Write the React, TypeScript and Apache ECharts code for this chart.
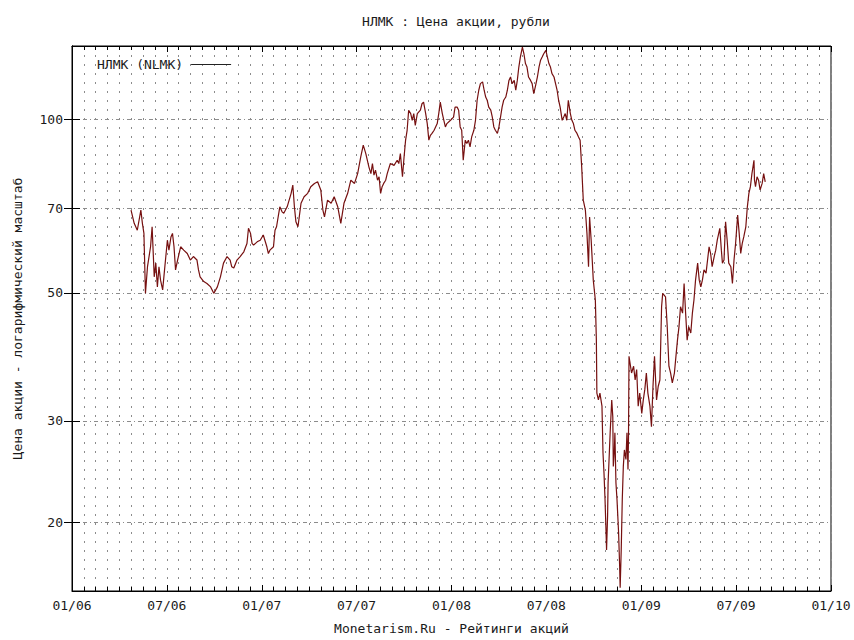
import React, { useEffect, useRef } from "react";
import * as echarts from "echarts";

// ---- data ----
const dates2006 = [
  "2006-04-23","2006-04-29","2006-05-05","2006-05-12","2006-05-15","2006-05-18","2006-05-21","2006-05-25","2006-05-31",
  "2006-06-03","2006-06-07","2006-06-10","2006-06-13","2006-06-16","2006-06-19","2006-06-23","2006-06-26","2006-06-29",
  "2006-07-02","2006-07-05","2006-07-09","2006-07-12","2006-07-15","2006-07-18","2006-07-22","2006-07-28",
  "2006-08-03","2006-08-10","2006-08-16","2006-08-22","2006-08-29",
  "2006-09-01","2006-09-04","2006-09-11","2006-09-17","2006-09-24","2006-09-30",
  "2006-10-07","2006-10-13","2006-10-19","2006-10-26",
  "2006-11-01","2006-11-04","2006-11-08","2006-11-14","2006-11-20","2006-11-27",
  "2006-12-03","2006-12-06","2006-12-10","2006-12-13","2006-12-16","2006-12-23","2006-12-29",
];
const prices2006 = [
  69.6,66.0,64.2,69.6,66.0,63.4,49.9,55.5,60.1,
  65.1,53.3,56.3,51.2,55.5,52.6,50.6,54.1,57.8,
  61.7,59.3,62.5,63.4,60.1,54.8,57.0,60.1,
  59.3,58.5,57.0,57.8,57.0,
  54.8,53.3,52.3,51.9,51.2,49.9,
  51.2,53.3,56.3,57.8,
  57.0,55.5,55.2,57.0,57.8,58.9,
  60.9,64.7,63.4,60.9,60.5,61.3,61.7,
];

const dates2007 = [
  "2007-01-04","2007-01-11","2007-01-14","2007-01-17","2007-01-24","2007-01-27","2007-01-30",
  "2007-02-05","2007-02-09","2007-02-12","2007-02-18","2007-02-25","2007-02-28",
  "2007-03-03","2007-03-06","2007-03-10","2007-03-16","2007-03-22","2007-03-29",
  "2007-04-04","2007-04-11","2007-04-17","2007-04-23","2007-04-27","2007-04-30",
  "2007-05-06","2007-05-13","2007-05-19","2007-05-26",
  "2007-06-01","2007-06-07","2007-06-14","2007-06-20","2007-06-27",
  "2007-07-03","2007-07-09","2007-07-14","2007-07-19","2007-07-25","2007-07-29",
  "2007-08-01","2007-08-04","2007-08-07","2007-08-11","2007-08-14","2007-08-17","2007-08-20","2007-08-23","2007-08-27","2007-08-30",
  "2007-09-05","2007-09-12","2007-09-18","2007-09-21","2007-09-24","2007-09-28",
  "2007-10-01","2007-10-04","2007-10-07","2007-10-10","2007-10-14","2007-10-17","2007-10-20","2007-10-23","2007-10-27",
  "2007-11-02","2007-11-05","2007-11-08","2007-11-12","2007-11-15","2007-11-18","2007-11-21","2007-11-24","2007-11-28",
  "2007-12-04","2007-12-07","2007-12-10","2007-12-14","2007-12-17","2007-12-20","2007-12-23","2007-12-30",
];
const prices2007 = [
  63.0,60.1,58.5,59.3,60.1,64.2,65.1,
  70.5,69.1,68.7,70.5,74.4,76.9,
  70.5,66.4,65.1,71.5,73.4,74.4,
  76.4,77.4,77.9,75.4,69.6,67.7,
  72.4,71.5,73.4,70.5,
  66.0,71.5,74.4,78.4,77.4,
  80.5,86.0,90.2,87.2,82.7,80.5,
  83.8,80.0,81.6,78.4,79.5,74.4,76.4,77.4,78.4,80.5,
  83.8,83.2,84.9,83.8,87.2,79.5,
  86.0,92.0,95.7,103.7,102.3,99.6,102.3,97.6,102.3,
  103.7,106.4,107.1,102.3,98.3,92.0,93.8,94.5,95.7,
  98.3,102.3,107.1,102.3,99.6,97.0,98.3,99.6,
];

const dates2008 = [
  "2008-01-05","2008-01-08","2008-01-12","2008-01-15","2008-01-18","2008-01-21","2008-01-24","2008-01-28","2008-01-31",
  "2008-02-03","2008-02-06","2008-02-09","2008-02-13","2008-02-16","2008-02-19","2008-02-22","2008-02-25","2008-02-29",
  "2008-03-03","2008-03-06","2008-03-09","2008-03-12","2008-03-16","2008-03-19","2008-03-22","2008-03-25","2008-03-29",
  "2008-04-01","2008-04-04","2008-04-07","2008-04-10","2008-04-14","2008-04-17","2008-04-20","2008-04-23","2008-04-26","2008-04-30",
  "2008-05-03","2008-05-06","2008-05-09","2008-05-12","2008-05-16","2008-05-19","2008-05-22","2008-05-25","2008-05-28",
  "2008-06-01","2008-06-04","2008-06-07","2008-06-10","2008-06-14","2008-06-17","2008-06-20","2008-06-23","2008-06-26","2008-06-30",
  "2008-07-03","2008-07-06","2008-07-09","2008-07-12","2008-07-16","2008-07-19","2008-07-22","2008-07-25","2008-07-28",
  "2008-08-01","2008-08-04","2008-08-07","2008-08-10","2008-08-13","2008-08-17","2008-08-20","2008-08-23","2008-08-26","2008-08-30",
  "2008-09-02","2008-09-05","2008-09-08","2008-09-11","2008-09-15","2008-09-18","2008-09-21","2008-09-23","2008-09-26","2008-09-27","2008-09-30",
  "2008-10-04","2008-10-06","2008-10-07","2008-10-10","2008-10-13","2008-10-17","2008-10-19","2008-10-21","2008-10-23","2008-10-25","2008-10-26","2008-10-28","2008-10-29",
  "2008-11-02","2008-11-05","2008-11-07","2008-11-08","2008-11-10","2008-11-11","2008-11-13","2008-11-15","2008-11-18","2008-11-20","2008-11-21","2008-11-23","2008-11-25","2008-11-27","2008-11-29",
  "2008-12-02","2008-12-04","2008-12-06","2008-12-07","2008-12-08","2008-12-13","2008-12-17","2008-12-20","2008-12-23","2008-12-26","2008-12-29",
];
const prices2008 = [
  100.9,105.0,105.0,103.7,97.0,95.7,84.9,92.0,90.8,
  92.0,89.6,93.2,95.7,99.6,107.9,112.3,115.3,116.1,
  112.3,109.3,107.9,105.0,103.7,100.9,97.0,95.7,94.5,
  97.0,100.9,105.0,107.9,109.3,112.3,116.8,118.4,115.3,116.8,
  112.3,116.8,123.2,128.2,133.4,129.9,124.9,123.2,118.4,
  116.8,115.3,110.8,113.8,118.4,123.2,126.6,128.2,129.9,131.7,
  128.2,124.9,123.2,120.0,118.4,115.3,112.3,107.9,105.0,
  99.6,100.9,102.3,99.6,107.9,102.3,99.6,98.3,95.7,94.5,
  93.2,92.0,82.7,72.4,69.6,63.4,55.5,67.7,61.7,59.3,52.6,
  48.6,41.4,33.5,32.6,33.5,31.8,26.4,24.3,21.9,19.2,17.9,20.5,23.4,
  28.6,32.6,30.5,25.0,26.7,28.6,23.4,21.9,19.2,16.8,15.4,17.9,21.9,25.0,26.7,
  25.7,28.6,24.7,28.1,38.8,36.3,37.3,35.3,36.8,31.8,33.5,
];

const dates2009 = [
  "2009-01-02","2009-01-05","2009-01-08","2009-01-11","2009-01-14","2009-01-18","2009-01-21","2009-01-24","2009-01-27","2009-01-31",
  "2009-02-03","2009-02-06","2009-02-09","2009-02-11","2009-02-16","2009-02-19","2009-02-22","2009-02-25","2009-02-28",
  "2009-03-04","2009-03-07","2009-03-10","2009-03-13","2009-03-16","2009-03-20","2009-03-23","2009-03-26","2009-03-29",
  "2009-04-01","2009-04-05","2009-04-08","2009-04-11","2009-04-14","2009-04-18","2009-04-21","2009-04-24","2009-04-27","2009-04-30",
  "2009-05-04","2009-05-07","2009-05-10","2009-05-13","2009-05-16","2009-05-20","2009-05-23","2009-05-26","2009-05-31",
  "2009-06-03","2009-06-05","2009-06-08","2009-06-11","2009-06-14","2009-06-17","2009-06-21","2009-06-24","2009-06-27","2009-06-30",
  "2009-07-04","2009-07-07","2009-07-10","2009-07-13","2009-07-16","2009-07-20","2009-07-23","2009-07-26","2009-07-29",
  "2009-08-01","2009-08-05","2009-08-06","2009-08-08","2009-08-11","2009-08-14","2009-08-17","2009-08-21","2009-08-24","2009-08-27",
];
const prices2009 = [
  30.9,32.6,34.0,36.3,33.5,31.8,29.3,34.4,38.8,32.6,
  34.4,35.3,47.3,49.9,49.2,43.7,37.3,36.3,34.9,
  36.3,38.8,41.4,43.7,47.3,46.1,51.9,46.1,41.4,
  43.7,42.6,46.1,48.6,52.6,56.3,52.6,51.2,52.6,54.8,
  54.1,57.0,60.1,58.5,55.5,57.8,59.3,61.7,64.7,
  59.3,56.3,57.0,66.4,61.7,56.3,55.5,51.9,57.0,60.9,
  68.2,63.4,58.5,60.9,62.5,65.1,70.5,74.4,76.4,
  80.5,84.9,78.4,76.4,79.5,78.4,75.4,77.4,80.5,77.9,
];

const yTickValues = [20, 30, 50, 70, 100];
const Y_MIN = 15.2;
const Y_MAX = 134;
const X_START_YEAR = 2006;
const X_MONTHS = 48;

const TITLE = "НЛМК : Цена акции, рубли";
const SERIES_NAME = "НЛМК (NLMK)";
const X_NAME = "Monetarism.Ru - Рейтинги акций";
const Y_NAME = "Цена акции - логарифмический масштаб";

const FONT = "'DejaVu Sans Mono', 'Liberation Mono', monospace";
const TEXT_COLOR = "#1a1a1a";
const LINE_COLOR = "#761010";
const GRID_COLOR = "#8c8c8c";

function toMonths(s: string): number {
  const [y, m, d] = s.split("-").map(Number);
  const dim = new Date(y, m, 0).getDate();
  return (y - X_START_YEAR) * 12 + (m - 1) + (d - 1) / dim;
}

function pad2(n: number): string {
  return n < 10 ? "0" + n : String(n);
}

export default function App() {
  const ref = useRef<HTMLDivElement>(null);

  useEffect(() => {
    if (!ref.current) return;
    const chart = echarts.init(ref.current, null, { renderer: "svg" });

    const allDates = [...dates2006, ...dates2007, ...dates2008, ...dates2009];
    const allPrices = [...prices2006, ...prices2007, ...prices2008, ...prices2009];
    const data = allDates.map((d, i) => [toMonths(d), Math.log10(allPrices[i])]);
    const yCustom = yTickValues.map((v) => Math.log10(v));

    const xLabelFmt = (v: number) => {
      const m = Math.round(v);
      const mm = (m % 12) + 1;
      const yy = (X_START_YEAR + Math.floor(m / 12)) % 100;
      return pad2(mm) + "/" + pad2(yy);
    };

    const vDots = { color: GRID_COLOR, width: 1, type: [2, 7] as any };

    const option: any = {
      animation: false,
      backgroundColor: "#ffffff",
      textStyle: { fontFamily: FONT },
      graphic: [
        {
          type: "text",
          x: 456,
          y: 21,
          style: {
            text: TITLE,
            font: `13px ${FONT}`,
            fill: TEXT_COLOR,
            textAlign: "center",
            textVerticalAlign: "middle",
          },
        },
      ],
      legend: {
        show: true,
        data: [{ name: SERIES_NAME, icon: "rect" }],
        left: 92,
        top: 53,
        align: "right",
        itemWidth: 40,
        itemHeight: 1,
        textStyle: { fontFamily: FONT, fontSize: 13, color: TEXT_COLOR, padding: [0, 3, 0, 0] },
        itemStyle: { color: "#222", borderWidth: 0 },
      },
      grid: {
        left: 72,
        right: 23,
        top: 46,
        bottom: 49,
        show: true,
        borderColor: "#000",
        borderWidth: 1,
        backgroundColor: "transparent",
      },
      xAxis: [
        {
          type: "value",
          min: 0,
          max: X_MONTHS,
          interval: 6,
          position: "bottom",
          name: X_NAME,
          nameLocation: "middle",
          nameGap: 31,
          nameTextStyle: { fontFamily: FONT, fontSize: 13, color: TEXT_COLOR },
          axisLine: { show: true, lineStyle: { color: "#000", width: 1 } },
          axisTick: { show: true, inside: true, length: 6, lineStyle: { color: "#000" } },
          minorTick: { show: true, splitNumber: 8, length: 4, lineStyle: { color: "#000" } },
          axisLabel: {
            formatter: xLabelFmt,
            margin: 8,
            fontFamily: FONT,
            fontSize: 13,
            color: TEXT_COLOR,
          },
          splitLine: { show: true, lineStyle: vDots },
          minorSplitLine: { show: true, lineStyle: vDots },
        },
        {
          type: "value",
          min: 0,
          max: X_MONTHS,
          interval: 6,
          position: "top",
          axisLine: { show: true, lineStyle: { color: "#000", width: 1 } },
          axisTick: { show: true, inside: true, length: 6, lineStyle: { color: "#000" } },
          minorTick: { show: true, splitNumber: 8, length: 4, lineStyle: { color: "#000" } },
          axisLabel: { show: false },
          splitLine: { show: false },
        },
      ],
      yAxis: [
        {
          type: "value",
          min: Math.log10(Y_MIN),
          max: Math.log10(Y_MAX),
          position: "left",
          name: Y_NAME,
          nameLocation: "middle",
          nameRotate: 90,
          nameGap: 48,
          nameTextStyle: { fontFamily: FONT, fontSize: 13, color: TEXT_COLOR },
          axisLine: { show: true, lineStyle: { color: "#000", width: 1 } },
          axisTick: { show: true, inside: true, length: 8, customValues: yCustom, lineStyle: { color: "#000" } },
          axisLabel: {
            customValues: yCustom,
            formatter: (v: number) => String(Math.round(Math.pow(10, v))),
            margin: 9,
            fontFamily: FONT,
            fontSize: 13,
            color: TEXT_COLOR,
          },
          splitLine: { show: true, lineStyle: { color: GRID_COLOR, width: 1, type: [4, 3, 1, 3] } },
        },
        {
          type: "value",
          min: Math.log10(Y_MIN),
          max: Math.log10(Y_MAX),
          position: "right",
          axisLine: { show: true, lineStyle: { color: "#000", width: 1 } },
          axisTick: { show: true, inside: true, length: 8, customValues: yCustom, lineStyle: { color: "#000" } },
          axisLabel: { show: false },
          splitLine: { show: false },
        },
      ],
      series: [
        {
          type: "line",
          name: SERIES_NAME,
          xAxisIndex: 0,
          yAxisIndex: 0,
          data,
          symbol: "none",
          showSymbol: false,
          lineStyle: { color: LINE_COLOR, width: 1.2 },
          itemStyle: { color: LINE_COLOR },
        },
      ],
    };

    chart.setOption(option);
    return () => chart.dispose();
  }, []);

  return (
    <div
      ref={ref}
      style={{ position: "fixed", left: 0, top: 0, width: 854, height: 640, background: "#fff" }}
    />
  );
}
